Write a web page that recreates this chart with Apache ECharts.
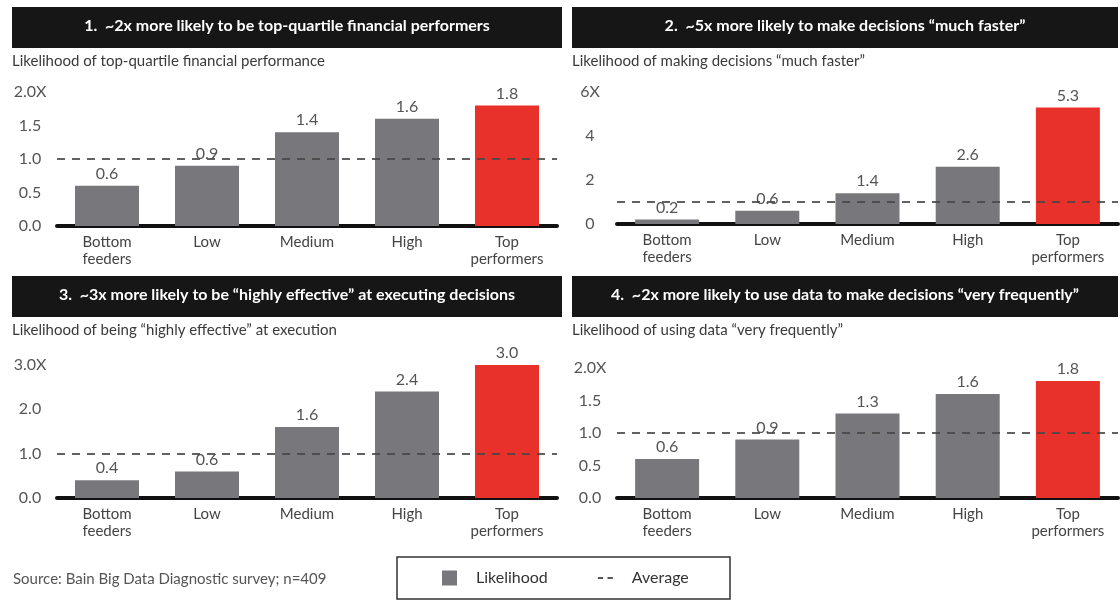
<!DOCTYPE html>
<html>
<head>
<meta charset="utf-8">
<script src="https://cdn.jsdelivr.net/npm/echarts@6/dist/echarts.min.js"></script>
<style>
    html, body { margin: 0; padding: 0; background: #fff; }
    #main { width: 1120px; height: 606px; }
</style>
</head>
<body>
<div id="main"></div>
<script>
// data
var categories = ['Bottom\nfeeders', 'Low', 'Medium', 'High', 'Top\nperformers'];
var financialValues = [0.6, 0.9, 1.4, 1.6, 1.8];
var fasterValues = [0.2, 0.6, 1.4, 2.6, 5.3];
var executionValues = [0.4, 0.6, 1.6, 2.4, 3.0];
var dataUseValues = [0.6, 0.9, 1.3, 1.6, 1.8];
var averageLevel = 1;

var panelTitles = [
    '1.  ~2x more likely to be top-quartile financial performers',
    '2.  ~5x more likely to make decisions \u201cmuch faster\u201d',
    '3.  ~3x more likely to be \u201chighly effective\u201d at executing decisions',
    '4.  ~2x more likely to use data to make decisions \u201cvery frequently\u201d'
];
var panelSubtitles = [
    'Likelihood of top-quartile financial performance',
    'Likelihood of making decisions \u201cmuch faster\u201d',
    'Likelihood of being \u201chighly effective\u201d at execution',
    'Likelihood of using data \u201cvery frequently\u201d'
];
var yMax = [2, 6, 3, 2];
var yStep = [0.5, 2, 1, 0.5];
var yDigits = [1, 0, 1, 1];
var sourceNote = 'Source: Bain Big Data Diagnostic survey; n=409';

var panelValues = [financialValues, fasterValues, executionValues, dataUseValues];

// layout of the four panels
var grids = [
    {left: 57, top: 92, width: 500, height: 134},
    {left: 617, top: 92, width: 501, height: 132},
    {left: 57, top: 365, width: 500, height: 133},
    {left: 617, top: 368, width: 501, height: 130}
];
var headerBars = [
    {x: 12, y: 7, w: 550},
    {x: 572, y: 7, w: 546},
    {x: 12, y: 276, w: 550},
    {x: 572, y: 276, w: 546}
];

var FONT = 'Lato, "Open Sans", sans-serif';
var GREY = '#78787c';
var RED = '#e8312a';

var chart = echarts.init(document.getElementById('main'));

var titles = [];
var graphics = [];
var xAxes = [];
var yAxes = [];
var series = [];

for (var i = 0; i < 4; i++) {
    var hb = headerBars[i];
    // black header band
    graphics.push({
        type: 'rect',
        z: 0,
        shape: {x: hb.x, y: hb.y, width: hb.w, height: 41},
        style: {fill: '#161616'}
    });
    titles.push({
        text: panelTitles[i],
        left: hb.x + hb.w / 2,
        top: hb.y + 11,
        textAlign: 'center',
        padding: 0,
        z: 10,
        textStyle: {color: '#fff', fontSize: 16, fontWeight: 'bold', fontFamily: FONT}
    });
    titles.push({
        text: panelSubtitles[i],
        left: hb.x,
        top: hb.y + 47,
        padding: 0,
        textStyle: {color: '#3a3a3a', fontSize: 15, fontWeight: 'normal', fontFamily: FONT}
    });

    xAxes.push({
        type: 'category',
        gridIndex: i,
        data: categories,
        axisTick: {show: false},
        axisLine: {lineStyle: {color: '#111', width: 4}},
        axisLabel: {
            interval: 0,
            color: '#444',
            fontSize: 15,
            lineHeight: 17,
            margin: 8,
            fontFamily: FONT
        }
    });

    (function (max, digits) {
        yAxes.push({
            type: 'value',
            gridIndex: i,
            min: 0,
            max: max,
            interval: yStep[i],
            splitLine: {show: false},
            axisLine: {show: false},
            axisTick: {show: false},
            axisLabel: {
                color: '#555',
                fontSize: 16,
                align: 'center',
                margin: 27,
                fontFamily: FONT,
                formatter: function (v) {
                    var s = v.toFixed(digits);
                    return v === max ? s + 'X' : s;
                }
            }
        });
    })(yMax[i], yDigits[i]);

    var barData = panelValues[i].map(function (v, k) {
        return k === panelValues[i].length - 1 ? {value: v, itemStyle: {color: RED}} : v;
    });

    series.push({
        name: 'Likelihood',
        type: 'bar',
        xAxisIndex: i,
        yAxisIndex: i,
        data: barData,
        barWidth: 64,
        itemStyle: {color: GREY},
        label: {
            show: true,
            position: 'top',
            distance: 4,
            color: '#555',
            fontSize: 16,
            fontFamily: FONT,
            formatter: function (p) { return p.value.toFixed(1); }
        },
        markLine: {
            silent: true,
            symbol: 'none',
            label: {show: false},
            lineStyle: {color: 'rgba(70,70,70,0.85)', type: [8, 7], width: 2},
            data: [{yAxis: averageLevel}]
        }
    });
}

// dummy series so the legend shows the dashed average key
series.push({
    name: 'Average',
    type: 'line',
    xAxisIndex: 0,
    yAxisIndex: 0,
    data: [],
    symbol: 'none',
    itemStyle: {color: '#555'},
    lineStyle: {color: '#555', type: [4, 7], width: 2}
});

// legend frame
graphics.push({
    type: 'rect',
    shape: {x: 397, y: 557, width: 333, height: 42},
    style: {fill: 'none', stroke: '#333', lineWidth: 1.5}
});

titles.push({
    text: sourceNote,
    left: 13,
    top: 572,
    padding: 0,
    textStyle: {color: '#555', fontSize: 15, fontWeight: 'normal', fontFamily: FONT}
});

var option = {
    backgroundColor: '#fff',
    animation: false,
    title: titles,
    graphic: graphics,
    grid: grids,
    xAxis: xAxes,
    yAxis: yAxes,
    legend: {
        left: 442,
        top: 570,
        padding: 0,
        itemWidth: 15,
        itemHeight: 15,
        itemGap: 50,
        symbolKeepAspect: true,
        textStyle: {color: '#333', fontSize: 16, fontFamily: FONT, padding: [0, 0, 0, 14]},
        data: [
            {name: 'Likelihood', icon: 'rect', itemStyle: {color: GREY}},
            {
                name: 'Average',
                icon: 'path://M0,0h6v2.5h-6zM11,0h6v2.5h-6z',
                itemStyle: {color: '#555'}
            }
        ]
    },
    series: series
};

chart.setOption(option);
</script>
</body>
</html>
